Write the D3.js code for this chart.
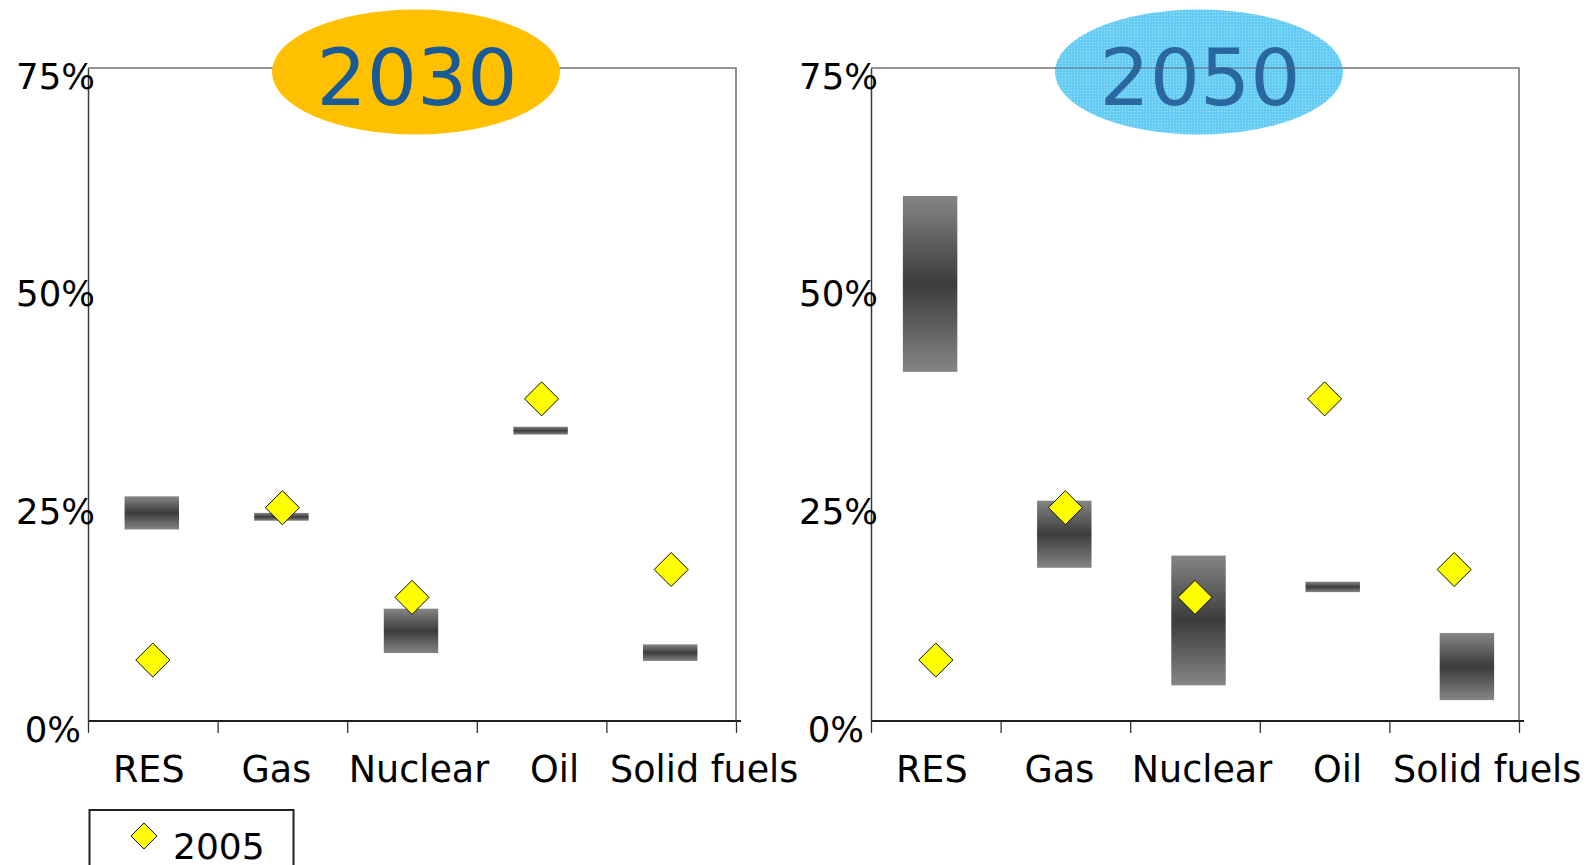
<!DOCTYPE html>
<html>
<head>
<meta charset="utf-8">
<script src="https://cdn.jsdelivr.net/npm/d3@7"></script>
<style>
  html, body { margin: 0; padding: 0; background: #fff; }
  svg { display: block; font-family: "DejaVu Sans", Verdana, sans-serif; }
</style>
</head>
<body>
<svg id="chart" width="1594" height="865"></svg>
<script>
// Energy mix shares (% of gross inland consumption)
const categories = ["RES", "Gas", "Nuclear", "Oil", "Solid fuels"];
const share2005 = [7.0, 24.5, 14.2, 37.0, 17.4];
const low2030  = [22.0, 23.0, 7.8, 32.9, 6.9];
const high2030 = [25.8, 23.9, 12.9, 33.8, 8.8];
const low2050  = [40.1, 17.6, 4.1, 14.8, 2.4];
const high2050 = [60.3, 25.3, 19.0, 16.0, 10.1];
const yTicks = [0, 25, 50, 75];
const panelYears = ["2030", "2050"];
const legendLabel = "2005";

const svg = d3.select("#chart");
const defs = svg.append("defs");

// shaded range bars: light at both ends, dark in the middle
const grad = defs.append("linearGradient")
  .attr("id", "rangeShade").attr("x1", 0).attr("y1", 0).attr("x2", 0).attr("y2", 1);
grad.append("stop").attr("offset", "0%").attr("stop-color", "#858585");
grad.append("stop").attr("offset", "50%").attr("stop-color", "#3c3c3c");
grad.append("stop").attr("offset", "100%").attr("stop-color", "#858585");

// fine dotted texture for the light blue badge
const pat = defs.append("pattern")
  .attr("id", "dots").attr("width", 3).attr("height", 3)
  .attr("patternUnits", "userSpaceOnUse");
pat.append("rect").attr("width", 3).attr("height", 3).attr("fill", "#58c8f2");
pat.append("rect").attr("width", 1).attr("height", 1).attr("fill", "#a2e0f8");

const plotTop = 68, plotBottom = 721;
const y = d3.scaleLinear().domain([0, 75]).range([plotBottom, plotTop]);

// the range bars of the 2050 panel sit on a slightly wider spread than its slots
const panels = [
  { year: panelYears[0], x0: 88,  x1: 736,  barSpan: [87, 735],
    low: low2030, high: high2030, badge: "#ffc000", pattern: false },
  { year: panelYears[1], x0: 871, x1: 1519, barSpan: [863, 1534],
    low: low2050, high: high2050, badge: "url(#dots)", pattern: true }
];

// horizontal nudges for the category labels (long labels overflow their slot)
const labelNudge = [-4, -6, 7, 13, 33];

const diamond = d3.symbol().type(d3.symbolSquare);

panels.forEach(p => {
  const g = svg.append("g");
  const x = d3.scaleBand().domain(categories).range([p.x0, p.x1]).padding(0);
  const xBar = d3.scaleBand().domain(categories).range(p.barSpan).padding(0);
  const edges = d3.scaleLinear().domain([0, categories.length]).range([p.x0, p.x1]);
  const barW = x.bandwidth() * 0.42;

  // frame: top and right borders
  g.append("path")
    .attr("d", `M${p.x0},${plotTop}H${p.x1}V${plotBottom}`)
    .attr("fill", "none").attr("stroke", "#737373").attr("stroke-width", 1.6);

  // category axis with tick marks at the slot boundaries
  const xAxis = d3.axisBottom(edges).tickValues(d3.range(0, categories.length + 1))
    .tickSize(12).tickFormat("");
  const xg = g.append("g").attr("transform", `translate(0,${plotBottom})`).call(xAxis);
  xg.select(".domain").attr("d", `M${p.x0},0H${p.x1 + 5}`)
    .attr("stroke", "#1e1e1e").attr("stroke-width", 2.2);
  xg.selectAll(".tick line").attr("stroke", "#333").attr("stroke-width", 1.3);

  // value axis
  const yAxis = d3.axisLeft(y).tickValues(yTicks).tickSize(0)
    .tickFormat(d => d + "%");
  const yg = g.append("g").attr("transform", `translate(${p.x0},0)`).call(yAxis);
  yg.select(".domain").attr("stroke", "#3a3a3a").attr("stroke-width", 1.5);
  yg.selectAll(".tick text")
    .attr("font-size", 35.5).attr("fill", "#000")
    .attr("font-family", "DejaVu Sans, Verdana, sans-serif")
    .attr("text-anchor", "end")
    .attr("x", d => d === 0 ? -7 : 7)
    .attr("dy", 20);

  // category labels
  g.selectAll("text.cat").data(categories).join("text")
    .attr("class", "cat")
    .attr("x", (d, i) => x(d) + x.bandwidth() / 2 + labelNudge[i])
    .attr("y", 782)
    .attr("text-anchor", "middle")
    .attr("font-size", 36.5)
    .attr("fill", "#000")
    .text(d => d);

  // projected ranges
  g.selectAll("rect.range").data(categories).join("rect")
    .attr("class", "range")
    .attr("x", d => xBar(d) + (xBar.bandwidth() - barW) / 2)
    .attr("width", barW)
    .attr("y", (d, i) => y(p.high[i]))
    .attr("height", (d, i) => y(p.low[i]) - y(p.high[i]))
    .attr("fill", "url(#rangeShade)");

  // 2005 shares
  g.selectAll("path.mark").data(categories).join("path")
    .attr("class", "mark")
    .attr("d", diamond.size(580)())
    .attr("transform", (d, i) =>
      `translate(${x(d) + x.bandwidth() / 2},${y(share2005[i])}) rotate(45)`)
    .attr("fill", "#ffff00").attr("stroke", "#000").attr("stroke-width", 0.9);

  // year badge
  const cx = (p.x0 + p.x1) / 2 + 4;
  const badge = g.append("g").attr("opacity", p.pattern ? 0.92 : 1);
  badge.append("ellipse")
    .attr("cx", cx).attr("cy", 72).attr("rx", 144).attr("ry", 62.5)
    .attr("fill", p.badge);
  badge.append("text")
    .attr("x", cx + 1).attr("y", 105)
    .attr("text-anchor", "middle")
    .attr("font-size", 79)
    .attr("fill", "#195a98")
    .text(p.year);
  if (p.pattern) {
    // border line shows through the translucent badge
    g.append("line")
      .attr("x1", cx - 144).attr("x2", cx + 144)
      .attr("y1", plotTop).attr("y2", plotTop)
      .attr("stroke", "#5d6e78").attr("stroke-width", 1.4).attr("opacity", 0.6);
  }
});

// legend (its box runs past the lower edge)
const lg = svg.append("g");
lg.append("path")
  .attr("d", "M89.5,865V810H293.5V865")
  .attr("fill", "#fff").attr("stroke", "#222").attr("stroke-width", 2);
lg.append("path")
  .attr("d", diamond.size(340)())
  .attr("transform", "translate(144,836) rotate(45)")
  .attr("fill", "#ffff00").attr("stroke", "#000").attr("stroke-width", 0.9);
lg.append("text")
  .attr("x", 173).attr("y", 859)
  .attr("font-size", 36).attr("fill", "#000")
  .text(legendLabel);
</script>
</body>
</html>
